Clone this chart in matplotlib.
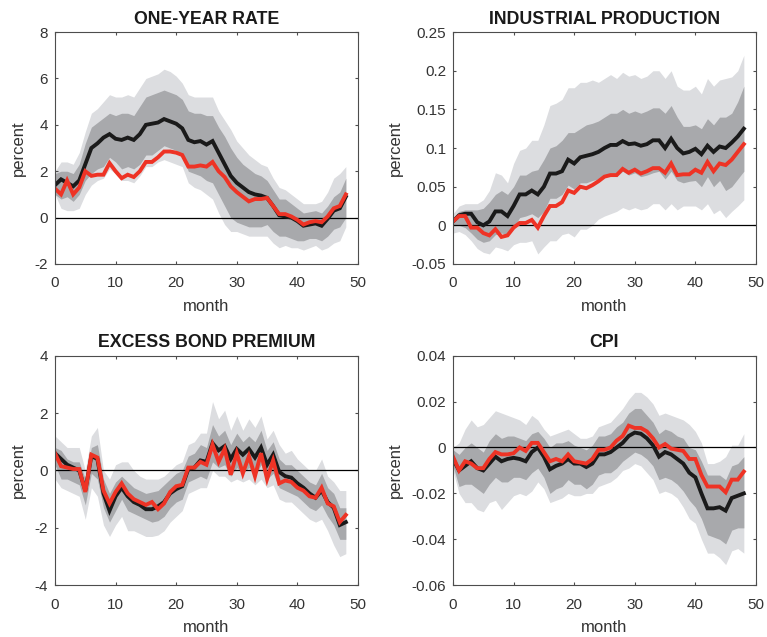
import numpy as np
import matplotlib
matplotlib.use("Agg")
from matplotlib import pyplot as plt

plt.rcParams['font.family'] = ['Liberation Sans', 'DejaVu Sans']

months = list(range(49))

# ---- ONE-YEAR RATE
rate_black = [1.4, 1.65, 1.5, 1.35, 1.6, 2.3, 3.0, 3.2, 3.45, 3.6, 3.4, 3.35, 3.45, 3.35, 3.6, 4.0, 4.05, 4.1, 4.25, 4.15,
              4.05, 3.85, 3.35, 3.25, 3.3, 3.15, 3.3, 2.8, 2.3, 1.8, 1.5, 1.3, 1.1, 1.0, 0.95, 0.85, 0.5, 0.1, 0.05, 0.0,
              -0.15, -0.35, -0.3, -0.25, -0.35, -0.05, 0.3, 0.4, 0.9]
rate_red = [1.25, 1.0, 1.6, 1.0, 1.3, 2.0, 1.8, 1.85, 1.85, 2.35, 2.0, 1.7, 1.85, 1.75, 2.0, 2.4, 2.4, 2.6, 2.85, 2.85,
            2.8, 2.7, 2.2, 2.2, 2.25, 2.2, 2.4, 2.0, 1.75, 1.35, 1.1, 0.9, 0.7, 0.8, 0.8, 0.85, 0.5, 0.15, 0.15, 0.05,
            -0.1, -0.3, -0.2, -0.15, -0.2, 0.05, 0.4, 0.5, 1.0]
rate_dark_hi = [1.9, 2.0, 2.0, 1.9, 2.3, 3.2, 3.9, 4.1, 4.3, 4.5, 4.4, 4.5, 4.5, 4.4, 4.8, 5.2, 5.3, 5.4, 5.5, 5.4,
                5.3, 5.1, 4.6, 4.5, 4.5, 4.4, 4.4, 3.9, 3.5, 3.0, 2.6, 2.3, 2.1, 1.9, 1.8, 1.6, 1.2, 0.8, 0.8, 0.6,
                0.4, 0.2, 0.25, 0.3, 0.2, 0.5, 0.9, 1.1, 1.7]
rate_dark_lo = [1.0, 0.8, 0.9, 0.7, 1.0, 1.6, 1.9, 2.1, 2.2, 2.6, 2.4, 2.1, 2.2, 2.1, 2.3, 2.7, 2.7, 2.9, 3.1, 3.0,
                2.9, 2.7, 2.0, 1.9, 1.8, 1.6, 1.5, 1.0, 0.5, 0.0, -0.2, -0.3, -0.4, -0.4, -0.4, -0.3, -0.6, -0.8, -0.8, -0.9,
                -1.0, -1.0, -0.9, -0.9, -1.0, -0.8, -0.5, -0.4, 0.0]
rate_light_hi = [2.0, 2.4, 2.4, 2.3, 2.8, 3.7, 4.5, 4.7, 5.0, 5.3, 5.2, 5.2, 5.3, 5.2, 5.6, 6.0, 6.1, 6.2, 6.4, 6.3,
                 6.1, 5.8, 5.3, 5.2, 5.2, 5.2, 5.2, 4.6, 4.2, 3.8, 3.3, 3.0, 2.7, 2.5, 2.3, 2.2, 1.7, 1.3, 1.2, 1.0,
                 0.8, 0.6, 0.6, 0.6, 0.7, 1.1, 1.7, 1.9, 2.2]
rate_light_lo = [1.0, 0.4, 0.3, 0.3, 0.4, 1.0, 1.4, 1.6, 1.7, 2.1, 1.9, 1.6, 1.6, 1.5, 1.8, 2.2, 2.2, 2.4, 2.5, 2.4,
                 2.3, 2.2, 1.5, 1.3, 1.2, 1.0, 0.8, 0.2, -0.3, -0.6, -0.6, -0.7, -0.8, -0.8, -0.8, -0.8, -1.1, -1.3, -1.2, -1.3,
                 -1.3, -1.4, -1.3, -1.2, -1.4, -1.3, -1.1, -1.0, -0.4]

# ---- INDUSTRIAL PRODUCTION
ip_black = [0.005, 0.013, 0.015, 0.015, 0.004, 0.0, 0.005, 0.018, 0.018, 0.012, 0.025, 0.04, 0.04, 0.045, 0.04, 0.05,
            0.067, 0.067, 0.07, 0.085, 0.08, 0.088, 0.09, 0.092, 0.095, 0.1, 0.104, 0.104, 0.109, 0.105, 0.106, 0.103,
            0.105, 0.11, 0.11, 0.1, 0.112, 0.1, 0.093, 0.095, 0.099, 0.092, 0.103, 0.095, 0.102, 0.1, 0.107, 0.115, 0.125]
ip_red = [0.005, 0.012, 0.012, -0.003, -0.003, -0.01, -0.013, -0.005, -0.015, -0.013, -0.003, 0.003, 0.003, 0.007,
          -0.003, 0.012, 0.025, 0.025, 0.03, 0.045, 0.042, 0.05, 0.048, 0.052, 0.057, 0.063, 0.065, 0.065, 0.073, 0.068,
          0.072, 0.067, 0.07, 0.074, 0.074, 0.068, 0.08, 0.065, 0.066, 0.066, 0.072, 0.068, 0.082, 0.07, 0.08, 0.078,
          0.085, 0.095, 0.105]
ip_dark_hi = [0.01, 0.018, 0.02, 0.02, 0.02, 0.022, 0.03, 0.04, 0.045, 0.04, 0.05, 0.065, 0.065, 0.07, 0.072, 0.085,
              0.1, 0.103, 0.11, 0.12, 0.12, 0.125, 0.13, 0.132, 0.135, 0.14, 0.145, 0.145, 0.15, 0.145, 0.148, 0.145,
              0.148, 0.152, 0.152, 0.145, 0.155, 0.14, 0.128, 0.128, 0.13, 0.125, 0.138, 0.13, 0.14, 0.14, 0.145, 0.16, 0.18]
ip_dark_lo = [0.0, 0.0, -0.003, -0.01, -0.018, -0.022, -0.02, -0.012, -0.01, -0.012, -0.003, 0.01, 0.012, 0.015, 0.01,
              0.018, 0.035, 0.035, 0.04, 0.052, 0.047, 0.055, 0.055, 0.058, 0.06, 0.063, 0.065, 0.063, 0.07, 0.065, 0.068,
              0.063, 0.065, 0.068, 0.07, 0.06, 0.07, 0.058, 0.055, 0.057, 0.058, 0.05, 0.063, 0.05, 0.058, 0.045, 0.05,
              0.06, 0.07]
ip_light_hi = [0.015, 0.025, 0.028, 0.028, 0.028, 0.033, 0.045, 0.068, 0.065, 0.055, 0.08, 0.097, 0.1, 0.11, 0.11, 0.13,
               0.155, 0.158, 0.163, 0.178, 0.178, 0.185, 0.185, 0.188, 0.185, 0.19, 0.195, 0.19, 0.198, 0.193, 0.195,
               0.19, 0.193, 0.2, 0.2, 0.19, 0.2, 0.18, 0.175, 0.175, 0.18, 0.17, 0.19, 0.18, 0.188, 0.19, 0.192, 0.2, 0.22]
ip_light_lo = [-0.01, -0.008, -0.012, -0.02, -0.03, -0.035, -0.037, -0.028, -0.03, -0.033, -0.025, -0.022, -0.022, -0.02,
               -0.037, -0.028, -0.02, -0.02, -0.012, -0.01, -0.015, -0.005, -0.005, 0.0, 0.008, 0.012, 0.015, 0.018, 0.023,
               0.02, 0.023, 0.02, 0.022, 0.028, 0.028, 0.02, 0.028, 0.02, 0.025, 0.025, 0.025, 0.02, 0.028, 0.015, 0.02,
               0.01, 0.018, 0.025, 0.033]

# ---- EXCESS BOND PREMIUM
ebp_black = [0.6, 0.4, 0.2, 0.1, 0.0, -0.7, 0.5, 0.4, -0.8, -1.4, -0.9, -0.6, -0.9, -1.1, -1.2, -1.35, -1.35, -1.25, -1.1,
             -0.8, -0.65, -0.55, 0.05, 0.1, 0.35, 0.3, 0.95, 0.7, 0.85, 0.4, 0.75, 0.55, 0.75, 0.45, 0.8, 0.2, 0.55, -0.05,
             -0.2, -0.25, -0.45, -0.6, -0.8, -0.95, -0.7, -1.1, -1.3, -1.9, -1.8]
ebp_red = [0.6, 0.15, 0.1, 0.05, 0.05, -0.75, 0.55, 0.45, -0.7, -1.15, -0.75, -0.45, -0.8, -1.0, -1.1, -1.2, -1.1, -1.35,
           -1.15, -0.75, -0.55, -0.5, 0.1, 0.1, 0.3, 0.2, 0.9, 0.3, 0.75, -0.15, 0.6, -0.1, 0.5, -0.2, 0.6, -0.3, 0.35,
           -0.45, -0.35, -0.4, -0.6, -0.7, -0.9, -0.95, -0.6, -1.15, -1.25, -1.8, -1.55]
ebp_dark_hi = [0.8, 0.7, 0.4, 0.3, 0.3, -0.3, 0.8, 0.9, -0.3, -0.8, -0.4, -0.2, -0.4, -0.6, -0.7, -0.8, -0.75, -0.7, -0.5,
               -0.3, -0.1, 0.0, 0.5, 0.6, 0.9, 0.8, 1.6, 1.2, 1.4, 0.9, 1.3, 1.0, 1.2, 1.0, 1.4, 0.7, 1.0, 0.4, 0.2, 0.2,
               0.0, -0.2, -0.4, -0.5, -0.1, -0.6, -0.8, -1.3, -1.3]
ebp_dark_lo = [0.2, -0.3, -0.3, -0.4, -0.5, -1.2, -0.1, -0.3, -1.3, -1.8, -1.4, -1.0, -1.4, -1.5, -1.6, -1.7, -1.8, -1.75,
               -1.6, -1.3, -1.1, -1.0, -0.4, -0.3, -0.2, -0.3, 0.3, 0.1, 0.2, -0.2, 0.1, -0.1, 0.1, -0.2, 0.2, -0.3, -0.1,
               -0.6, -0.7, -0.8, -0.9, -1.1, -1.3, -1.4, -1.2, -1.6, -1.9, -2.4, -2.4]
ebp_light_hi = [1.2, 1.0, 0.8, 0.8, 0.8, 0.0, 1.2, 1.5, 0.0, -0.3, 0.2, 0.3, 0.3, 0.0, -0.2, -0.3, -0.3, -0.3, -0.2, 0.0,
                0.2, 0.3, 0.9, 1.0, 1.3, 1.3, 2.4, 1.8, 2.1, 1.4, 1.9, 1.4, 1.8, 1.5, 1.9, 1.1, 1.4, 0.9, 0.6, 0.7, 0.4,
                0.2, 0.0, 0.0, 0.4, -0.2, -0.4, -0.7, -0.7]
ebp_light_lo = [-0.3, -0.6, -0.7, -0.8, -0.9, -1.7, -0.6, -0.9, -1.9, -2.3, -1.9, -1.6, -2.1, -2.1, -2.2, -2.3, -2.3,
                -2.25, -2.1, -1.8, -1.6, -1.4, -0.8, -0.7, -0.6, -0.6, 0.0, -0.2, -0.2, -0.4, -0.3, -0.4, -0.3, -0.5,
                -0.3, -0.6, -0.5, -1.0, -1.1, -1.1, -1.3, -1.5, -1.7, -1.8, -1.7, -2.1, -2.6, -3.0, -2.9]

# ---- CPI
cpi_black = [-0.005, -0.01, -0.008, -0.006, -0.009, -0.01, -0.007, -0.004, -0.006, -0.005, -0.0045, -0.005, -0.006,
             -0.002, 0.0, -0.004, -0.0095, -0.008, -0.007, -0.005, -0.007, -0.007, -0.0085, -0.007, -0.003, -0.003,
             -0.002, 0.0, 0.002, 0.005, 0.0065, 0.006, 0.004, 0.001, -0.004, -0.002, -0.003, -0.005, -0.007, -0.011,
             -0.013, -0.02, -0.0265, -0.0265, -0.026, -0.0275, -0.022, -0.021, -0.02]
cpi_red = [-0.004, -0.01, -0.006, -0.007, -0.009, -0.009, -0.005, -0.002, -0.003, -0.003, -0.0025, 0.0, -0.0015, 0.002,
           0.002, -0.002, -0.006, -0.005, -0.006, -0.003, -0.006, -0.0065, -0.007, -0.005, -0.001, -0.001, 0.0, 0.003,
           0.005, 0.0095, 0.0085, 0.0085, 0.007, 0.004, 0.0, 0.0015, -0.0005, -0.001, -0.0015, -0.005, -0.005, -0.012,
           -0.017, -0.017, -0.017, -0.0195, -0.014, -0.014, -0.0105]
cpi_dark_hi = [-0.001, -0.003, 0.0, 0.002, 0.0, -0.002, 0.003, 0.006, 0.004, 0.005, 0.005, 0.004, 0.003, 0.006, 0.007,
               0.004, 0.0, 0.002, 0.002, 0.003, 0.001, 0.0, -0.001, 0.001, 0.005, 0.005, 0.006, 0.009, 0.011, 0.015,
               0.017, 0.017, 0.014, 0.011, 0.006, 0.008, 0.007, 0.005, 0.004, 0.0, -0.001, -0.006, -0.012, -0.012,
               -0.012, -0.014, -0.008, -0.007, -0.004]
cpi_dark_lo = [-0.008, -0.017, -0.016, -0.016, -0.018, -0.02, -0.016, -0.013, -0.015, -0.015, -0.013, -0.013, -0.014,
               -0.011, -0.009, -0.013, -0.02, -0.018, -0.017, -0.014, -0.016, -0.016, -0.018, -0.016, -0.012, -0.011,
               -0.011, -0.009, -0.006, -0.004, -0.002, -0.003, -0.005, -0.008, -0.014, -0.013, -0.014, -0.016, -0.019,
               -0.023, -0.026, -0.031, -0.038, -0.039, -0.04, -0.042, -0.036, -0.035, -0.035]
cpi_light_hi = [0.0, 0.002, 0.008, 0.012, 0.009, 0.01, 0.013, 0.016, 0.015, 0.014, 0.013, 0.012, 0.01, 0.014, 0.012,
                0.008, 0.005, 0.006, 0.007, 0.008, 0.006, 0.004, 0.004, 0.005, 0.009, 0.01, 0.011, 0.014, 0.017, 0.021,
                0.024, 0.024, 0.022, 0.019, 0.014, 0.015, 0.014, 0.013, 0.012, 0.01, 0.007, 0.002, -0.007, -0.007,
                -0.006, -0.004, 0.001, 0.001, 0.006]
cpi_light_lo = [-0.01, -0.02, -0.024, -0.024, -0.027, -0.028, -0.024, -0.023, -0.027, -0.024, -0.021, -0.02, -0.021,
                -0.019, -0.015, -0.018, -0.024, -0.023, -0.022, -0.02, -0.021, -0.021, -0.02, -0.02, -0.017, -0.016,
                -0.015, -0.013, -0.01, -0.009, -0.007, -0.008, -0.011, -0.014, -0.02, -0.019, -0.02, -0.022, -0.026,
                -0.031, -0.033, -0.04, -0.046, -0.046, -0.048, -0.051, -0.045, -0.044, -0.046]

titles = ['ONE-YEAR RATE', 'INDUSTRIAL PRODUCTION', 'EXCESS BOND PREMIUM', 'CPI']
ylims = [(-2, 8), (-0.05, 0.25), (-4, 4), (-0.06, 0.04)]
yticks = [[-2, 0, 2, 4, 6, 8],
          [-0.05, 0, 0.05, 0.1, 0.15, 0.2, 0.25],
          [-4, -2, 0, 2, 4],
          [-0.06, -0.04, -0.02, 0, 0.02, 0.04]]
yticklabels = [['-2', '0', '2', '4', '6', '8'],
               ['-0.05', '0', '0.05', '0.1', '0.15', '0.2', '0.25'],
               ['-4', '-2', '0', '2', '4'],
               ['-0.06', '-0.04', '-0.02', '0', '0.02', '0.04']]

panels = [
    (rate_black, rate_red, rate_dark_lo, rate_dark_hi, rate_light_lo, rate_light_hi),
    (ip_black, ip_red, ip_dark_lo, ip_dark_hi, ip_light_lo, ip_light_hi),
    (ebp_black, ebp_red, ebp_dark_lo, ebp_dark_hi, ebp_light_lo, ebp_light_hi),
    (cpi_black, cpi_red, cpi_dark_lo, cpi_dark_hi, cpi_light_lo, cpi_light_hi),
]

fig = plt.figure(figsize=(7.67, 6.37), dpi=100)
positions = [[0.0717, 0.5856, 0.395, 0.364],
             [0.5906, 0.5856, 0.395, 0.364],
             [0.0717, 0.0812, 0.395, 0.3605],
             [0.5906, 0.0812, 0.395, 0.3605]]

axis_grey = '#4d4d4d'
for i, (blk, red, dlo, dhi, llo, lhi) in enumerate(panels):
    ax = fig.add_axes(positions[i])
    ax.fill_between(months, llo, lhi, color='#dcdde0', lw=0)
    ax.fill_between(months, dlo, dhi, color='#a8a9ac', lw=0)
    ax.axhline(0, color='black', lw=0.9)
    ax.plot(months, blk, color='#1a1a1a', lw=2.8, solid_joinstyle='miter')
    ax.plot(months, red, color='#ee3325', lw=2.8, solid_joinstyle='miter')
    ax.set_xlim(0, 50)
    ax.set_ylim(*ylims[i])
    ax.set_xticks([0, 10, 20, 30, 40, 50])
    ax.set_yticks(yticks[i])
    ax.set_yticklabels(yticklabels[i])
    ax.tick_params(direction='in', top=True, right=True, length=2.5, width=0.8,
                   colors=axis_grey, labelsize=11, labelcolor='#333333')
    ax.tick_params(axis='x', pad=9)
    ax.tick_params(axis='y', pad=5)
    for sp in ax.spines.values():
        sp.set_color(axis_grey)
        sp.set_linewidth(0.8)
    ax.set_title(titles[i], fontsize=12.8, fontweight='bold', color='#1a1a1a', pad=6)
    ax.set_xlabel('month', fontsize=12, color='#333333', labelpad=6)
    ax.set_ylabel('percent', fontsize=12, color='#333333', labelpad=6)

fig.savefig('out.png', dpi=100)
